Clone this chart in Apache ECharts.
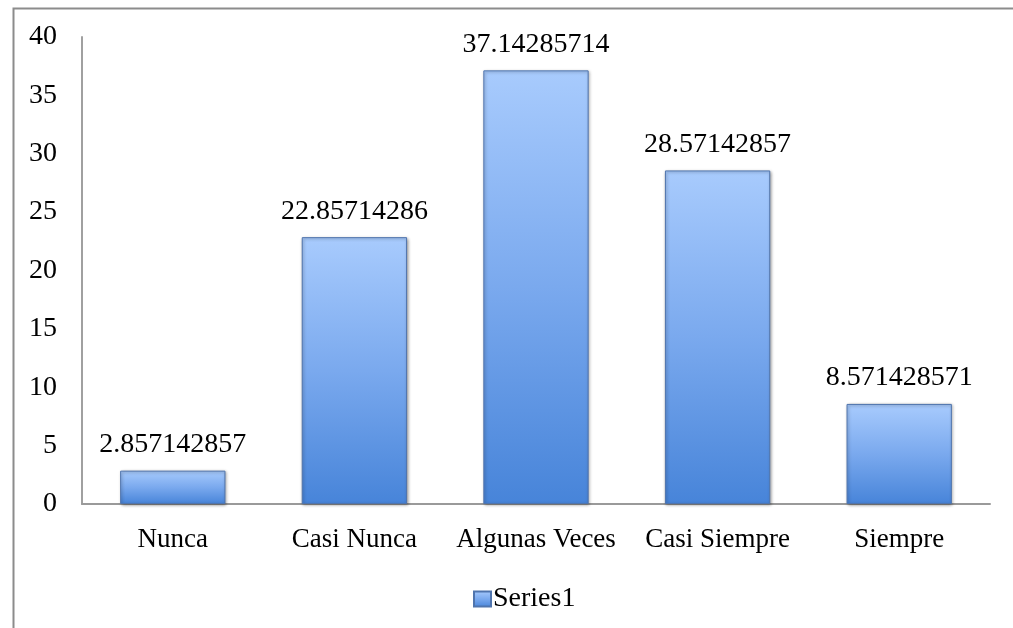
<!DOCTYPE html>
<html>
<head>
<meta charset="utf-8">
<script src="https://cdn.jsdelivr.net/npm/echarts@6/dist/echarts.min.js"></script>
<style>
  html, body { margin: 0; padding: 0; background: #fff; }
  #chart { width: 1013px; height: 628px; }
</style>
</head>
<body>
<div id="chart"></div>
<script>
const categories = ["Nunca", "Casi Nunca", "Algunas Veces", "Casi Siempre", "Siempre"];
const values = [2.857142857, 22.85714286, 37.14285714, 28.57142857, 8.571428571];
const seriesName = "Series1";

const font = "'Liberation Serif', serif";

// bar fill: light on top, darker blue at the base
const barFill = new echarts.graphic.LinearGradient(0, 0, 0, 1, [
  { offset: 0, color: "#a8cbfd" },
  { offset: 0.5, color: "#7aa9ee" },
  { offset: 1, color: "#4784d9" }
]);

const chart = echarts.init(document.getElementById("chart"));
chart.setOption({
  backgroundColor: "#fff",
  animation: false,
  graphic: [{
    // frame round the chart area (only left and top visible in the picture)
    type: "rect",
    left: 11, top: 6,
    shape: { width: 1100, height: 700 },
    style: { fill: "none", stroke: "#8c8c8c", lineWidth: 2 },
    silent: true
  }],
  grid: { left: 82, right: 23, top: 37, bottom: 124 },
  legend: {
    data: [seriesName],
    icon: "rect",
    left: 468,
    top: 580,
    itemWidth: 17,
    itemHeight: 15,
    itemGap: 4,
    textStyle: { fontFamily: font, fontSize: 28, color: "#000", padding: [0, 0, 0, -3] }
  },
  xAxis: {
    type: "category",
    data: categories,
    axisLine: { lineStyle: { color: "#9a9a9a", width: 2 } },
    axisTick: { show: false },
    axisLabel: { interval: 0, fontFamily: font, fontSize: 27, color: "#000", margin: 22 }
  },
  yAxis: {
    type: "value",
    min: 0,
    max: 40,
    interval: 5,
    splitLine: { show: false },
    axisLine: { show: true, lineStyle: { color: "#a0a0a0", width: 2 } },
    axisTick: { show: false },
    axisLabel: { fontFamily: font, fontSize: 28, color: "#000", margin: 25 }
  },
  series: [{
    name: seriesName,
    type: "bar",
    data: values,
    barWidth: "58%",
    itemStyle: {
      color: barFill,
      borderColor: "#4f74ad",
      borderWidth: 1,
      shadowColor: "rgba(0,0,0,0.35)",
      shadowBlur: 3,
      shadowOffsetX: 1,
      shadowOffsetY: 1
    },
    label: {
      show: true,
      position: "top",
      distance: 12,
      fontFamily: font,
      fontSize: 28,
      color: "#000",
      formatter: p => String(p.value)
    }
  }]
});
</script>
</body>
</html>
